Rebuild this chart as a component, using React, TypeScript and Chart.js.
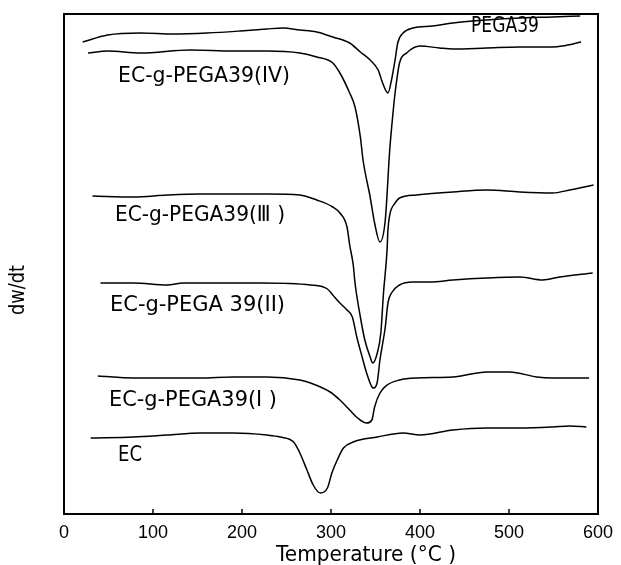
import React, { useEffect, useRef } from "react";
import { Chart, registerables } from "chart.js";

Chart.register(...registerables);

// Temperature (°C) and dw/dt values (arbitrary units, offset per curve)
const pega39T = [21, 49, 86, 123, 161, 198, 228, 246, 265, 284, 302, 321, 333, 344, 353, 358, 364, 368, 372, 375, 381, 392, 414, 437, 475, 512, 549, 580];
const pega39V = [472, 479, 481, 480, 481, 483, 485, 486, 484, 482, 477, 471, 462, 454, 444, 431, 421, 434, 454, 471, 481, 486, 488, 491, 494, 496, 497, 498];

const ivT = [27, 49, 86, 142, 190, 228, 265, 284, 302, 310, 321, 327, 333, 336, 344, 349, 355, 361, 366, 370, 372, 377, 385, 400, 422, 437, 475, 512, 549, 560, 581];
const ivV = [461, 463, 461, 464, 463, 463, 461, 457, 451, 441, 421, 407, 377, 354, 317, 291, 272, 294, 364, 404, 421, 451, 461, 468, 466, 465, 466, 467, 467, 468, 472];

const iiiT = [32, 78, 116, 153, 190, 228, 265, 284, 302, 310, 318, 321, 325, 327, 333, 338, 344, 347, 352, 356, 359, 363, 364, 366, 372, 377, 396, 437, 475, 512, 549, 568, 595];
const iiiV = [318, 317, 319, 320, 320, 320, 319, 314, 307, 301, 287, 269, 249, 231, 197, 174, 157, 151, 161, 181, 221, 264, 284, 299, 311, 316, 319, 322, 324, 322, 321, 324, 329];

const iiT = [41, 78, 116, 134, 190, 221, 277, 296, 302, 310, 318, 324, 329, 335, 340, 346, 348, 352, 355, 361, 364, 368, 377, 392, 411, 437, 475, 512, 538, 557, 594];
const iiV = [231, 231, 229, 231, 231, 231, 229, 225, 219, 211, 204, 197, 177, 157, 141, 127, 126, 132, 154, 187, 211, 221, 229, 232, 232, 234, 236, 237, 234, 237, 241];

const iT = [38, 78, 116, 153, 190, 228, 265, 277, 299, 310, 321, 330, 340, 346, 349, 355, 363, 377, 396, 437, 475, 501, 531, 549, 590];
const iV = [138, 136, 136, 136, 137, 137, 134, 131, 122, 114, 104, 96, 91, 94, 107, 121, 129, 134, 136, 137, 142, 142, 137, 136, 136];

const ecT = [30, 78, 116, 153, 190, 228, 243, 258, 265, 273, 280, 288, 296, 301, 307, 314, 325, 352, 381, 400, 437, 475, 512, 549, 568, 587];
const ecV = [76, 77, 79, 81, 81, 79, 77, 72, 61, 44, 29, 21, 26, 41, 54, 66, 72, 77, 81, 79, 84, 86, 86, 87, 88, 87];

const seriesNames = ["PEGA39", "EC-g-PEGA39(IV)", "EC-g-PEGA39(Ⅲ )", "EC-g-PEGA 39(II)", "EC-g-PEGA39(I )", "EC"];
const seriesT = [pega39T, ivT, iiiT, iiT, iT, ecT];
const seriesV = [pega39V, ivV, iiiV, iiV, iV, ecV];

const xTicks = [0, 100, 200, 300, 400, 500, 600];
const xTitle = "Temperature (°C )";
const yTitle = "dw/dt";

// label anchor positions (px: left x, center y, target width)
const labelPos = [
  [471, 26, 68],
  [118, 76, 172],
  [115, 215, 170],
  [110, 305, 175],
  [109, 400, 168],
  [118, 455, 24],
];

const LABEL_FONT = '18px "DejaVu Sans", sans-serif';

function drawText(ctx: CanvasRenderingContext2D, text: string, x: number, y: number, align: CanvasTextAlign, width: number, rotate = false) {
  ctx.save();
  ctx.font = LABEL_FONT;
  const w = ctx.measureText(text).width || 1;
  ctx.translate(x, y);
  if (rotate) ctx.rotate(-Math.PI / 2);
  ctx.scale(width / w, 1.22);
  ctx.fillStyle = "#000";
  ctx.textAlign = align;
  ctx.textBaseline = "middle";
  ctx.fillText(text, 0, 0);
  ctx.restore();
}

const decorPlugin = {
  id: "decor",
  afterDraw(chart: any) {
    const { ctx, chartArea } = chart;
    const { left, top, right, bottom } = chartArea;
    const x = chart.scales.x;
    ctx.save();
    ctx.strokeStyle = "#000";
    ctx.lineWidth = 2;
    ctx.strokeRect(left, top, right - left, bottom - top);
    ctx.lineWidth = 1.5;
    x.ticks.forEach((t: any) => {
      if (t.value > x.min && t.value < x.max) {
        const px = x.getPixelForValue(t.value);
        ctx.beginPath();
        ctx.moveTo(px, bottom);
        ctx.lineTo(px, bottom - 5);
        ctx.stroke();
      }
    });
    ctx.restore();
    seriesNames.forEach((name, i) => {
      drawText(ctx, name, labelPos[i][0], labelPos[i][1], "left", labelPos[i][2]);
    });
    drawText(ctx, yTitle, 18, 290, "center", 50, true);
    drawText(ctx, xTitle, 366, 555, "center", 180);
  },
};

export default function App() {
  const ref = useRef<HTMLCanvasElement | null>(null);
  useEffect(() => {
    if (!ref.current) return;
    const chart = new Chart(ref.current, {
      type: "line",
      data: {
        datasets: seriesNames.map((name, i) => ({
          label: name,
          data: seriesT[i].map((t, j) => ({ x: t, y: seriesV[i][j] })),
          borderColor: "#000",
          borderWidth: 1.5,
          pointRadius: 0,
          cubicInterpolationMode: "monotone" as const,
          fill: false,
        })),
      },
      options: {
        responsive: false,
        animation: false,
        layout: { padding: { left: 64, right: 22, top: 14, bottom: 0 } },
        plugins: { legend: { display: false }, tooltip: { enabled: false } },
        scales: {
          x: {
            type: "linear",
            min: 0,
            max: 600,
            afterBuildTicks: (s: any) => {
              s.ticks = xTicks.map((v) => ({ value: v }));
            },
            afterFit: (s: any) => {
              s.height = 51;
            },
            grid: { display: false, drawTicks: false },
            border: { display: false },
            ticks: {
              padding: 8,
              color: "#000",
              font: { family: '"Liberation Sans", sans-serif', size: 18 },
              maxRotation: 0,
              autoSkip: false,
            },
          },
          y: {
            type: "linear",
            min: 0,
            max: 500,
            display: false,
          },
        },
      },
      plugins: [decorPlugin],
    });
    return () => chart.destroy();
  }, []);
  return (
    <div style={{ position: "absolute", left: 0, top: 0, width: 621, height: 565, background: "#fff" }}>
      <canvas ref={ref} width={621} height={565} style={{ display: "block" }} />
    </div>
  );
}
